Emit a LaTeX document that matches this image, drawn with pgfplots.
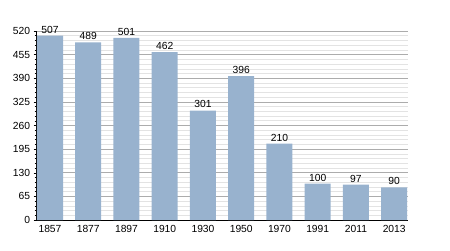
\documentclass[border=0pt]{standalone}
\usepackage{fontspec}
\setmainfont{Liberation Sans}
\usepackage{pgfplots}
\pgfplotsset{compat=1.18}
\definecolor{barblue}{HTML}{98B2CE}
\begin{document}
\begin{tikzpicture}[x=1pt,y=1pt]
\useasboundingbox (0,0) rectangle (450,250);
\begin{axis}[
  at={(50pt,30pt)}, anchor=origin,
  scale only axis, width=371pt, height=189pt,
  xmin=-0.35, xmax=9.35, ymin=0, ymax=520,
  xtick={0,...,9},
  xticklabels={1857,1877,1897,1910,1930,1950,1970,1991,2011,2013},
  ytick={0,65,...,520},
  minor y tick num=4,
  ymajorgrids, yminorgrids,
  major grid style={gray!65, line width=0.6pt},
  minor grid style={gray!22, line width=0.6pt},
  axis x line*=bottom, axis y line*=left,
  axis line style={black, line width=0.7pt},
  x tick style={draw=none},
  y tick style={black, line width=0.5pt},
  tick align=outside,
  major tick length=3pt, minor tick length=2pt,
  tick label style={font=\fontsize{10.3}{12}\selectfont},
  /pgf/number format/assume math mode=true,
  xticklabel style={yshift=1pt},
  enlargelimits=false,
  ybar, bar width=26pt,
  nodes near coords,
  every node near coord/.append style={font=\fontsize{10.3}{12}\selectfont, black, yshift=-1pt},
  clip=false,
]
\addplot[fill=barblue, draw=none] coordinates {
 (0,507) (1,489) (2,501) (3,462) (4,301) (5,396) (6,210) (7,100) (8,97) (9,90)
};
\end{axis}
\end{tikzpicture}
\end{document}
